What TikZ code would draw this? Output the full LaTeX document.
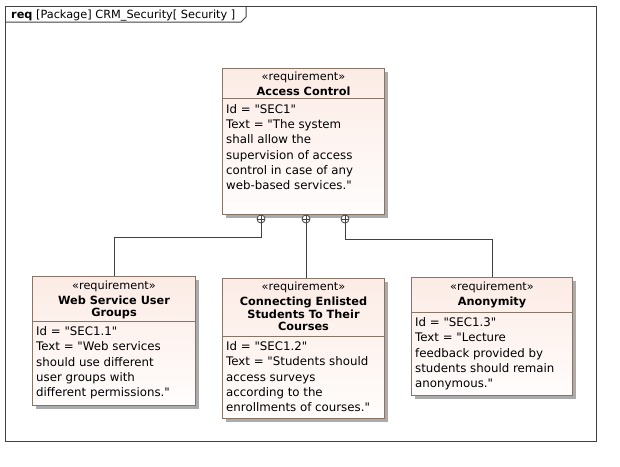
\documentclass[tikz,border=0pt]{standalone}
\usepackage{fontspec}
\setmainfont[Ligatures=TeXOff]{DejaVu Sans}
\usetikzlibrary{positioning}
\usetikzlibrary{shadows}
\definecolor{reqtop}{RGB}{252,235,229}
\definecolor{reqbot}{RGB}{255,253,252}
\definecolor{reqedge}{RGB}{135,118,104}
\definecolor{framegray}{RGB}{64,64,64}
\tikzset{
 reqbox/.style={draw=reqedge,line width=1pt,top color=reqtop,bottom color=reqbot,anchor=north west,inner sep=0pt,
  drop shadow={shadow xshift=3.5pt,shadow yshift=-3.5pt,fill=black!33,opacity=1}},
 reqline/.style={draw=reqedge,line width=1pt},
 stereo/.style={font=\fontsize{11.3}{13}\selectfont,inner sep=0pt},
 reqname/.style={font=\fontsize{11.3}{12.5}\selectfont\bfseries,align=center,inner sep=0pt},
 reqbody/.style={font=\fontsize{11.8}{15.3}\selectfont,align=left,anchor=north west,inner sep=0pt},
 contain/.style={circle,draw=framegray,line width=0.8pt,fill=white,minimum size=8pt,inner sep=0pt,
  path picture={\draw[framegray,line width=0.8pt] (path picture bounding box.north) -- (path picture bounding box.south)
   (path picture bounding box.west) -- (path picture bounding box.east);}},
 link/.style={draw=framegray,line width=1pt}
}
\begin{document}
\begin{tikzpicture}[x=1pt,y=-1pt]
 \useasboundingbox (0,0) rectangle (620,466);
 \draw[framegray,line width=1pt] (5.5,6) rectangle (596,441);
 \draw[framegray,line width=1pt] (5.5,22) -- (241,22) -- (246,17) -- (246,6);
 \node[anchor=base west,inner sep=0pt,font=\fontsize{11.3}{13}\selectfont] (title) at (11,18) {\textbf{req} [Package] CRM\_Security[ Security ]};

 \node[reqbox,minimum width=162pt,minimum height=146pt] (ac) at (222,68) {};
 \node[stereo,below=4pt of ac.north] (acS) {«requirement»};
 \node[reqname,below=3.5pt of acS] (acN) {Access Control};
 \draw[reqline] (222,98) -- (384,98);
 \node[reqbody] (acB) at (226,104) {Id = "SEC1"\\Text = "The system\\shall allow the\\supervision of access\\control in case of any\\web-based services."};

 \node[reqbox,minimum width=163pt,minimum height=129pt] (ws) at (32,276) {};
 \node[stereo,below=4.5pt of ws.north] (wsS) {«requirement»};
 \node[reqname,below=3.5pt of wsS] (wsN) {Web Service User\\Groups};
 \draw[reqline] (32,321) -- (195,321);
 \node[reqbody] (wsB) at (36,326.5) {Id = "SEC1.1"\\Text = "Web services\\should use different\\user groups with\\different permissions."};

 \node[reqbox,minimum width=162pt,minimum height=140pt] (ce) at (222,278) {};
 \node[stereo,below=4pt of ce.north] (ceS) {«requirement»};
 \node[reqname,below=3.5pt of ceS] (ceN) {Connecting Enlisted\\Students To Their\\Courses};
 \draw[reqline] (222,336) -- (384,336);
 \node[reqbody] (ceB) at (226,341.5) {Id = "SEC1.2"\\Text = "Students should\\access surveys\\according to the\\enrollments of courses."};

 \node[reqbox,minimum width=161pt,minimum height=118pt] (an) at (411,277) {};
 \node[stereo,below=4.5pt of an.north] (anS) {«requirement»};
 \node[reqname,below=3.5pt of anS] (anN) {Anonymity};
 \draw[reqline] (411,312) -- (572,312);
 \node[reqbody] (anB) at (415,317.5) {Id = "SEC1.3"\\Text = "Lecture\\feedback provided by\\students should remain\\anonymous."};

 \node[contain] (c1) at (261,219) {};
 \node[contain] (c2) at (306,219) {};
 \node[contain] (c3) at (345,219) {};
 \draw[link] (c1.south) -- ++(0,14) -| (ws.north);
 \draw[link] (c2.south) -- (c2.south |- ce.north);
 \draw[link] (c3.south) -- ++(0,16.5) -| (an.north);
\end{tikzpicture}
\end{document}
